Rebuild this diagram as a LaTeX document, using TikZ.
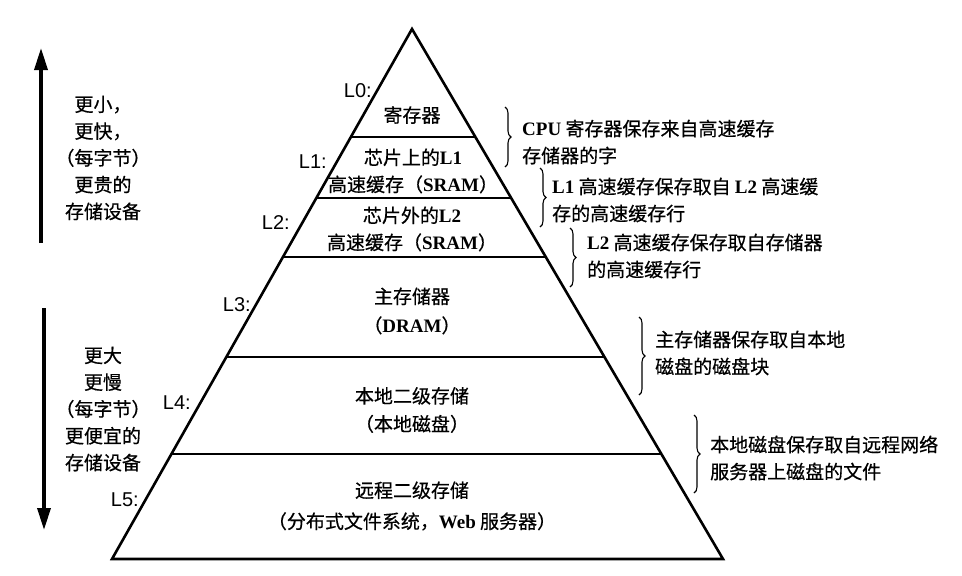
\documentclass[tikz,border=0pt]{standalone}
\usepackage{fontspec}
\setmainfont{Noto Sans CJK SC}[FakeBold=0.5]
\newfontfamily\tnr{Liberation Serif}
\newfontfamily\hel{Liberation Sans}
\usetikzlibrary{decorations.pathreplacing,arrows.meta,calc}
\newcommand{\lat}[1]{{\tnr\bfseries #1}}
\begin{document}
\begin{tikzpicture}[x=1pt,y=-1pt,
  edge/.style={line width=2.6pt, line join=miter},
  divider/.style={line width=2.6pt},
  band/.style={font=\fontsize{19}{27}\selectfont, align=center, inner sep=0pt},
  note/.style={font=\fontsize{19}{27}\selectfont, align=left, anchor=west, inner sep=0pt},
  side/.style={font=\fontsize{19}{26.8}\selectfont, align=center, inner sep=0pt},
  lvl/.style={font=\hel\fontsize{20}{20}\selectfont, anchor=east, inner sep=0pt},
  brc/.style={decorate, decoration={brace, amplitude=6pt}, line width=1.1pt},
  bigarrow/.style={line width=3.4pt, -{Triangle[length=22pt,width=13pt]}},
  ]
\useasboundingbox (0,0) rectangle (962,576);

% pyramid
\coordinate (apex) at (412,29);
\coordinate (bl) at (112,559);
\coordinate (br) at (723,559);
\draw[edge] (apex) -- (bl) -- (br) -- cycle;

\foreach \yy/\nm in {137/a,198/b,257/c,357/d,454/e}{
  \coordinate (l\nm) at ($(apex)!{(\yy-29)/530}!(bl)$);
  \coordinate (r\nm) at ($(apex)!{(\yy-29)/530}!(br)$);
  \draw[divider] (l\nm) -- (r\nm);
}

% band texts
\node[band] (t0) at (412,115) {寄存器};
\node[band] (t1) at (413,171) {芯片上的\lat{L1}\\高速缓存（\lat{SRAM}）};
\node[band] (t2) at (412,229) {芯片外的\lat{L2}\\高速缓存（\lat{SRAM}）};
\node[band] (t3) at (412,311) {主存储器\\[2pt]（\lat{DRAM}）};
\node[band] (t4) at (412,410) {本地二级存储\\[1pt]（本地磁盘）};
\node[band] (t5) at (412,506) {远程二级存储\\[4pt]（分布式文件系统，\lat{Web} 服务器）};

% level labels
\node[lvl] (L0) at (372,91) {L0:};
\node[lvl] (L1) at (327,162) {L1:};
\node[lvl] (L2) at (290,223) {L2:};
\node[lvl] (L3) at (251,305) {L3:};
\node[lvl] (L4) at (191,403) {L4:};
\node[lvl] (L5) at (139,500) {L5:};

% braces
\coordinate (b0s) at (505,107); \coordinate (b0e) at (505,167);
\coordinate (b1s) at (540,168); \coordinate (b1e) at (540,227);
\coordinate (b2s) at (570,228); \coordinate (b2e) at (570,287);
\coordinate (b3s) at (639,317); \coordinate (b3e) at (639,395);
\coordinate (b4s) at (694,415); \coordinate (b4e) at (694,493);
\foreach \i in {0,...,4}{\draw[brc] (b\i s) -- (b\i e);}

% notes
\node[note] (n0) at (522,142) {\lat{CPU} 寄存器保存来自高速缓存\\存储器的字};
\node[note] (n1) at (552,200) {\lat{L1} 高速缓存保存取自 \lat{L2} 高速缓\\存的高速缓存行};
\node[note] (n2) at (587,256) {\lat{L2} 高速缓存保存取自存储器\\的高速缓存行};
\node[note] (n3) at (655,353) {主存储器保存取自本地\\磁盘的磁盘块};
\node[note] (n4) at (710,458) {本地磁盘保存取自远程网络\\服务器上磁盘的文件};

% side arrows and texts
\coordinate (upS) at (41,243); \coordinate (upE) at (41,48);
\coordinate (dnS) at (44,308); \coordinate (dnE) at (44,530);
\draw[bigarrow] (upS) -- (upE);
\draw[bigarrow] (dnS) -- (dnE);
\node[side] (s0) at (103,158) {更小，\\更快，\\（每字节）\\更贵的\\存储设备};
\node[side] (s1) at (103,409) {更大\\更慢\\（每字节）\\更便宜的\\存储设备};
\end{tikzpicture}
\end{document}
